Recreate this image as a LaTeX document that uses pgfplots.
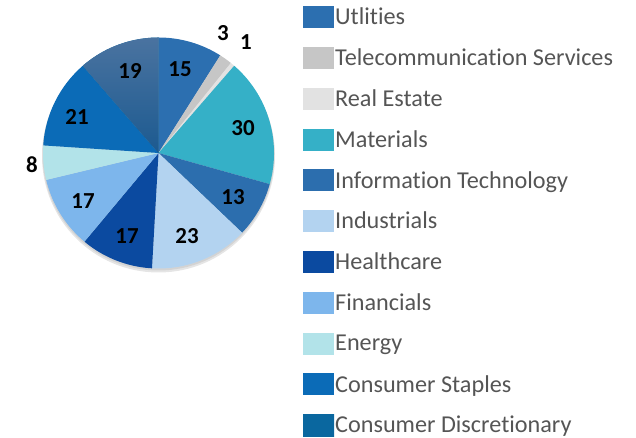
\documentclass[border=0pt]{standalone}
\usepackage{fontspec}
\setmainfont{Carlito}[RawFeature={-liga;-clig;-calt;-dlig}]
\usepackage{pgfplots}
\pgfplotsset{compat=1.18}
\definecolor{cutil}{HTML}{2C6FB0}
\definecolor{ctele}{HTML}{C6C6C6}
\definecolor{creal}{HTML}{E2E2E2}
\definecolor{cmat}{HTML}{35B0C7}
\definecolor{cit}{HTML}{2C6EAE}
\definecolor{cind}{HTML}{B3D3F0}
\definecolor{cheal}{HTML}{0B4AA0}
\definecolor{cfin}{HTML}{7DB6EC}
\definecolor{cener}{HTML}{B2E3E9}
\definecolor{cstap}{HTML}{0B6BB7}
\definecolor{cdisc}{HTML}{0A679F}
\definecolor{cdisctop}{HTML}{4A73A0}
\definecolor{cdiscbot}{HTML}{1C5A90}
\definecolor{legtext}{HTML}{555555}
\newcommand{\nl}{\kern0pt}
% pie centre and radius (in axis units = bp)
\def\cx{158.5}
\def\cy{285}
\def\rr{115.5}
\def\tot{167}
\begin{document}
\begin{tikzpicture}
\begin{axis}[
  width=636bp, height=438bp, scale only axis,
  xmin=0, xmax=636, ymin=0, ymax=438,
  hide axis, clip=false,
  samples=80,
  legend style={at={(0.4764,0.9863)}, anchor=north west, draw=none, fill=none,
    inner sep=0pt, row sep=18.8bp, column sep=1bp,
    font=\fontsize{24.3}{24.3}\selectfont, text=legtext,
    cells={anchor=west}, nodes={inner sep=0pt, minimum height=22bp}},
  legend image code/.code={\fill[#1,draw=none] (0bp,-11bp) rectangle (31bp,11bp);},
]
% soft shadow under the pie
\fill[black, opacity=0.10] (axis cs:\cx,\cy-3) circle [radius=116.5bp];
\fill[black, opacity=0.08] (axis cs:\cx,\cy-1.5) circle [radius=116bp];
% values: 15,3,1,30,13,23,17,17,8,21,19 ; cumulative 0,15,18,19,49,62,85,102,119,127,148,167
\addplot[fill=cutil, draw=none, domain={90-360*15/\tot}:{90-360*0/\tot}]
  ({\cx+\rr*cos(x)},{\cy+\rr*sin(x)}) -- (axis cs:\cx,\cy) -- cycle;
\addlegendentry{Utlit\nl ies}
\addplot[fill=ctele, draw=none, domain={90-360*18/\tot}:{90-360*15/\tot}]
  ({\cx+\rr*cos(x)},{\cy+\rr*sin(x)}) -- (axis cs:\cx,\cy) -- cycle;
\addlegendentry{Telecommunicat\nl ion Services}
\addplot[fill=creal, draw=none, domain={90-360*19/\tot}:{90-360*18/\tot}]
  ({\cx+\rr*cos(x)},{\cy+\rr*sin(x)}) -- (axis cs:\cx,\cy) -- cycle;
\addlegendentry{Real Estate}
\addplot[fill=cmat, draw=none, domain={90-360*49/\tot}:{90-360*19/\tot}]
  ({\cx+\rr*cos(x)},{\cy+\rr*sin(x)}) -- (axis cs:\cx,\cy) -- cycle;
\addlegendentry{Materials}
\addplot[fill=cit, draw=none, domain={90-360*62/\tot}:{90-360*49/\tot}]
  ({\cx+\rr*cos(x)},{\cy+\rr*sin(x)}) -- (axis cs:\cx,\cy) -- cycle;
\addlegendentry{Informat\nl ion Technology}
\addplot[fill=cind, draw=none, domain={90-360*85/\tot}:{90-360*62/\tot}]
  ({\cx+\rr*cos(x)},{\cy+\rr*sin(x)}) -- (axis cs:\cx,\cy) -- cycle;
\addlegendentry{Industrials}
\addplot[fill=cheal, draw=none, domain={90-360*102/\tot}:{90-360*85/\tot}]
  ({\cx+\rr*cos(x)},{\cy+\rr*sin(x)}) -- (axis cs:\cx,\cy) -- cycle;
\addlegendentry{Healthcare}
\addplot[fill=cfin, draw=none, domain={90-360*119/\tot}:{90-360*102/\tot}]
  ({\cx+\rr*cos(x)},{\cy+\rr*sin(x)}) -- (axis cs:\cx,\cy) -- cycle;
\addlegendentry{Financials}
\addplot[fill=cener, draw=none, domain={90-360*127/\tot}:{90-360*119/\tot}]
  ({\cx+\rr*cos(x)},{\cy+\rr*sin(x)}) -- (axis cs:\cx,\cy) -- cycle;
\addlegendentry{Energy}
\addplot[fill=cstap, draw=none, domain={90-360*148/\tot}:{90-360*127/\tot}]
  ({\cx+\rr*cos(x)},{\cy+\rr*sin(x)}) -- (axis cs:\cx,\cy) -- cycle;
\addlegendentry{Consumer Staples}
\addplot[fill=cdisc, top color=cdisctop, bottom color=cdiscbot, draw=none,
  domain={90-360*167/\tot}:{90-360*148/\tot},
  legend image code/.code={\fill[top color=cdisc,bottom color=cdisc,draw=none] (0bp,-11bp) rectangle (31bp,11bp);}]
  ({\cx+\rr*cos(x)},{\cy+\rr*sin(x)}) -- (axis cs:\cx,\cy) -- cycle;
\addlegendentry{Consumer Discret\nl ionary}
% data labels
\begin{scope}[every node/.style={font=\fontsize{23}{23}\selectfont\bfseries, text=black, inner sep=0pt}]
\node at (axis cs:180,369) {15};
\node at (axis cs:223,405) {3};
\node at (axis cs:246,396) {1};
\node at (axis cs:243,310) {30};
\node at (axis cs:233,241) {13};
\node at (axis cs:187,202) {23};
\node at (axis cs:127,202) {17};
\node at (axis cs:83,237) {17};
\node at (axis cs:32,273) {8};
\node at (axis cs:77,321) {21};
\node at (axis cs:130,367) {19};
\end{scope}
\end{axis}
\pgfresetboundingbox
\path (current axis.south west) rectangle (current axis.north east);
\end{tikzpicture}
\end{document}
